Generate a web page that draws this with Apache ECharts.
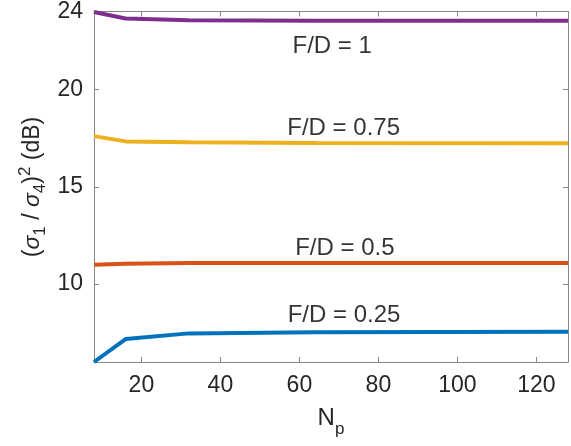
<!DOCTYPE html>
<html>
<head>
<meta charset="utf-8">
<script src="https://cdn.jsdelivr.net/npm/echarts@6/dist/echarts.min.js"></script>
<style>html,body{margin:0;padding:0;background:#fff}#c{width:571px;height:446px}</style>
</head>
<body>
<div id="c"></div>
<script>
// ---- data ----
const Np = [8, 16, 32, 64, 128];
const fd025 = [6.0, 7.18, 7.47, 7.53, 7.55];
const fd05 = [10.99, 11.05, 11.08, 11.08, 11.08];
const fd075 = [17.6, 17.33, 17.28, 17.25, 17.23];
const fd1 = [23.97, 23.64, 23.55, 23.53, 23.52];
const seriesNames = ['F/D = 0.25', 'F/D = 0.5', 'F/D = 0.75', 'F/D = 1'];
const labelX = [71.3, 71.5, 71.2, 68.3];
const labelY = [8.41, 11.83, 17.98, 22.2];
const xTicks = [20, 40, 60, 80, 100, 120];
const yTicks = [10, 15, 20];
const yTickLabels = [10, 15, 20, 24];

const colors = ['#0072BD', '#D95319', '#EDB120', '#7E2F8E'];
const allSeries = [fd025, fd05, fd075, fd1];
const font = '"Liberation Sans", Arial, Helvetica, sans-serif';
const axisGray = '#868686';
const textDark = '#262626';

const chart = echarts.init(document.getElementById('c'), null, {renderer: 'canvas'});

const lineSeries = allSeries.map((vals, i) => ({
  type: 'line',
  name: seriesNames[i],
  data: Np.map((x, j) => [x, vals[j]]),
  symbol: 'none',
  smooth: false,
  lineStyle: {color: colors[i], width: 4},
  itemStyle: {color: colors[i]},
  z: 3,
  silent: true
}));

const labelSeries = {
  type: 'scatter',
  data: seriesNames.map((n, i) => ({name: n, value: [labelX[i], labelY[i]]})),
  symbolSize: 0,
  silent: true,
  z: 5,
  label: {
    show: true, position: 'inside', formatter: '{b}',
    fontSize: 24, fontFamily: font, color: '#000'
  },
  labelLayout: {hideOverlap: false}
};

const boxAxisCommon = {
  axisLine: {show: true, onZero: false, lineStyle: {color: axisGray, width: 1}},
  splitLine: {show: false}
};

chart.setOption({
  animation: false,
  backgroundColor: '#fff',
  grid: {left: 94, top: 11, width: 474, height: 351, containLabel: false},
  xAxis: [
    Object.assign({}, boxAxisCommon, {
      type: 'value', min: 8, max: 128, interval: 4, position: 'bottom',
      axisTick: {show: true, inside: true, length: 5, customValues: xTicks, lineStyle: {color: axisGray}},
      axisLabel: {show: true, customValues: xTicks, fontSize: 23, fontFamily: font, color: textDark, margin: 12},
      name: '{m|N}{s|p}', nameLocation: 'middle', nameGap: 36,
      nameTextStyle: {
        fontFamily: font, color: textDark,
        rich: {
          m: {fontSize: 24, fontFamily: font, color: textDark, lineHeight: 40, verticalAlign: 'middle'},
          s: {fontSize: 17, fontFamily: font, color: textDark, lineHeight: 15, verticalAlign: 'bottom'}
        }
      }
    }),
    Object.assign({}, boxAxisCommon, {
      type: 'value', min: 8, max: 128, interval: 4, position: 'top',
      axisTick: {show: true, inside: true, length: 5, customValues: xTicks, lineStyle: {color: axisGray}},
      axisLabel: {show: false}
    })
  ],
  yAxis: [
    Object.assign({}, boxAxisCommon, {
      type: 'value', min: 6, max: 24, interval: 1, position: 'left',
      axisTick: {show: true, inside: true, length: 5, customValues: yTicks, lineStyle: {color: axisGray}},
      axisLabel: {show: true, customValues: yTickLabels, fontSize: 23, fontFamily: font, color: textDark, margin: 11}
    }),
    Object.assign({}, boxAxisCommon, {
      type: 'value', min: 6, max: 24, interval: 1, position: 'right',
      axisTick: {show: true, inside: true, length: 5, customValues: yTicks, lineStyle: {color: axisGray}},
      axisLabel: {show: false}
    })
  ],
  graphic: [{
    type: 'text',
    x: 33, y: 187,
    rotation: Math.PI / 2,
    silent: true,
    style: {
      text: '{m|(}{g|σ}{s|1}{m| / }{g|σ}{s|4}{m|)}{p|2}{m| (dB)}',
      align: 'center', verticalAlign: 'middle',
      fontFamily: font, fill: textDark,
      rich: {
        m: {fontSize: 23, fontFamily: font, fill: textDark, lineHeight: 32, verticalAlign: 'middle'},
        g: {fontSize: 23, fontFamily: font, fontStyle: 'italic', fill: textDark, lineHeight: 32, verticalAlign: 'middle'},
        s: {fontSize: 17, fontFamily: font, fill: textDark, lineHeight: 16, verticalAlign: 'bottom'},
        p: {fontSize: 17, fontFamily: font, fill: textDark, lineHeight: 16, verticalAlign: 'top'}
      }
    }
  }],
  series: lineSeries.concat([labelSeries])
});
</script>
</body>
</html>
